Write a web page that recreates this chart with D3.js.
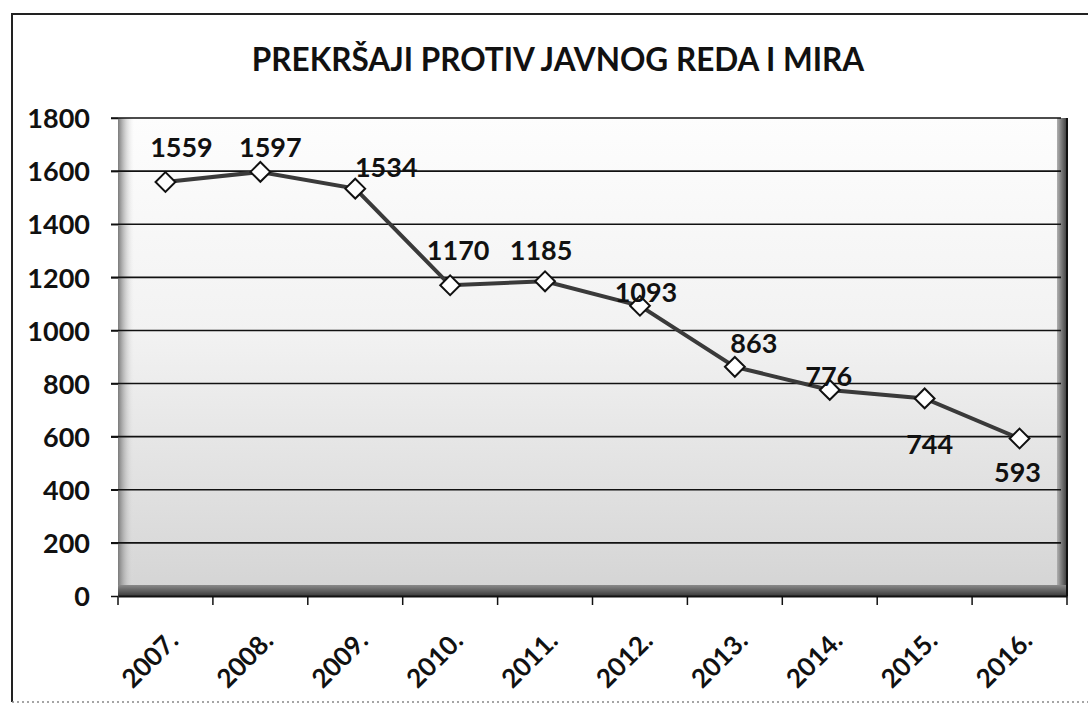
<!DOCTYPE html>
<html>
<head>
<meta charset="utf-8">
<script src="https://cdn.jsdelivr.net/npm/d3@7"></script>
<style>
  body { margin: 0; background: #fff; }
  svg text { font-family: Lato, "Open Sans", sans-serif; fill: #111; }
</style>
</head>
<body>
<div id="chart"></div>
<script>
const years = ["2007.", "2008.", "2009.", "2010.", "2011.", "2012.", "2013.", "2014.", "2015.", "2016."];
const offences = [1559, 1597, 1534, 1170, 1185, 1093, 863, 776, 744, 593];
const yTickValues = [0, 200, 400, 600, 800, 1000, 1200, 1400, 1600, 1800];
const chartTitle = "PREKRŠAJI PROTIV JAVNOG REDA I MIRA";
// where Excel put each data label relative to its marker (dx, baseline dy)
const labelOffsets = [[16, -25], [10, -15], [31, -12], [8, -25], [-4, -21], [6, -4], [19, -14], [-1, -4], [5, 56], [-2, 43]];

const totalWidth = 1088, totalHeight = 710;
const mLeft = 118, mRight = 21, mTop = 118, mBottom = 114;
const width = totalWidth - mLeft - mRight;
const height = totalHeight - mTop - mBottom;

const svg = d3.select("#chart").append("svg")
    .attr("width", totalWidth)
    .attr("height", totalHeight);

const defs = svg.append("defs");
const wallGrad = defs.append("linearGradient").attr("id", "wall")
    .attr("x1", 0).attr("y1", 0).attr("x2", 0).attr("y2", 1);
wallGrad.append("stop").attr("offset", "0%").attr("stop-color", "#fdfdfd");
wallGrad.append("stop").attr("offset", "45%").attr("stop-color", "#f2f2f2");
wallGrad.append("stop").attr("offset", "100%").attr("stop-color", "#d4d4d4");
const sideGrad = defs.append("linearGradient").attr("id", "side")
    .attr("x1", 0).attr("y1", 0).attr("x2", 1).attr("y2", 0);
sideGrad.append("stop").attr("offset", "0%").attr("stop-color", "#7a7a7a");
sideGrad.append("stop").attr("offset", "100%").attr("stop-color", "#e6e6e6").attr("stop-opacity", 0);
const rightGrad = defs.append("linearGradient").attr("id", "rside")
    .attr("x1", 0).attr("y1", 0).attr("x2", 1).attr("y2", 0);
rightGrad.append("stop").attr("offset", "0%").attr("stop-color", "#b0b0b0");
rightGrad.append("stop").attr("offset", "100%").attr("stop-color", "#3a3a3a");
const floorGrad = defs.append("linearGradient").attr("id", "floor")
    .attr("x1", 0).attr("y1", 0).attr("x2", 0).attr("y2", 1);
floorGrad.append("stop").attr("offset", "0%").attr("stop-color", "#8a8a8a");
floorGrad.append("stop").attr("offset", "100%").attr("stop-color", "#3a3a3a");

// chart frame (scan cuts it off on the right)
svg.append("path")
    .attr("d", `M12,${totalHeight - 8} L12,14 L${totalWidth},14`)
    .attr("fill", "none").attr("stroke", "#222").attr("stroke-width", 2);
svg.append("line")
    .attr("x1", 12).attr("x2", totalWidth).attr("y1", totalHeight - 8).attr("y2", totalHeight - 8)
    .attr("stroke", "#888").attr("stroke-width", 1.5).attr("stroke-dasharray", "2,3");

svg.append("text")
    .attr("x", 558).attr("y", 71)
    .attr("text-anchor", "middle")
    .attr("font-size", 31.5)
    .attr("font-weight", "bold")
    .text(chartTitle);

const xScale = d3.scaleBand().domain(years).range([0, width]);
const yScale = d3.scaleLinear().domain([0, 1800]).range([height, 0]);

const g = svg.append("g").attr("transform", `translate(${mLeft},${mTop})`);

// back wall + 3D sides
g.append("rect").attr("width", width).attr("height", height).attr("fill", "url(#wall)");
g.append("rect").attr("width", 16).attr("height", height).attr("fill", "url(#side)");
g.append("rect").attr("x", width - 10).attr("width", 10).attr("height", height).attr("fill", "url(#rside)");

// gridlines
g.append("g")
    .selectAll("line")
    .data(yTickValues.filter(v => v > 0))
    .join("line")
    .attr("x1", -7).attr("x2", width - 6)
    .attr("y1", d => yScale(d)).attr("y2", d => yScale(d))
    .attr("stroke", "#111").attr("stroke-width", 1.6);

g.append("rect").attr("x", 0).attr("y", height - 11).attr("width", width).attr("height", 11)
    .attr("fill", "url(#floor)");
g.append("line").attr("x1", width).attr("x2", width).attr("y1", 0).attr("y2", height)
    .attr("stroke", "#111").attr("stroke-width", 2);

// y axis
const yAxis = g.append("g")
    .call(d3.axisLeft(yScale).tickValues(yTickValues).tickFormat(d3.format("d")).tickSize(7).tickPadding(21));
yAxis.select(".domain").remove();
yAxis.selectAll(".tick line").attr("stroke", "#111").attr("stroke-width", 1.5);
yAxis.selectAll("text")
    .attr("font-size", 27).attr("font-weight", "bold").attr("dy", "0.36em");

// x axis
const xAxis = g.append("g")
    .attr("transform", `translate(0,${height})`)
    .call(d3.axisBottom(xScale).tickSize(0).tickPadding(0));
xAxis.select(".domain").attr("stroke", "#111").attr("stroke-width", 2);
xAxis.selectAll(".tick line").remove();
xAxis.selectAll(".tick text")
    .attr("font-size", 26).attr("font-weight", "bold")
    .attr("text-anchor", "end")
    .attr("transform", "translate(8,40) rotate(-45)")
    .attr("dy", "0.35em");
g.append("g")
    .attr("transform", `translate(0,${height})`)
    .selectAll("line")
    .data(years.concat(["end"]))
    .join("line")
    .attr("x1", (d, i) => i * xScale.bandwidth())
    .attr("x2", (d, i) => i * xScale.bandwidth())
    .attr("y1", 0).attr("y2", 9)
    .attr("stroke", "#111").attr("stroke-width", 1.5);

const cx = d => xScale(d.year) + xScale.bandwidth() / 2;
const points = years.map((y, i) => ({year: y, value: offences[i], off: labelOffsets[i]}));

g.append("path")
    .datum(points)
    .attr("fill", "none")
    .attr("stroke", "#3a3a3a")
    .attr("stroke-width", 4)
    .attr("d", d3.line().x(cx).y(d => yScale(d.value)));

g.append("g")
    .selectAll("path")
    .data(points)
    .join("path")
    .attr("d", d3.symbol(d3.symbolDiamond2, 250))
    .attr("transform", d => `translate(${cx(d)},${yScale(d.value)})`)
    .attr("fill", "#fff").attr("stroke", "#111").attr("stroke-width", 2);

g.append("g")
    .selectAll("text")
    .data(points)
    .join("text")
    .attr("x", d => cx(d) + d.off[0])
    .attr("y", d => yScale(d.value) + d.off[1])
    .attr("text-anchor", "middle")
    .attr("font-size", 27)
    .attr("font-weight", "bold")
    .text(d => d.value);
</script>
</body>
</html>
